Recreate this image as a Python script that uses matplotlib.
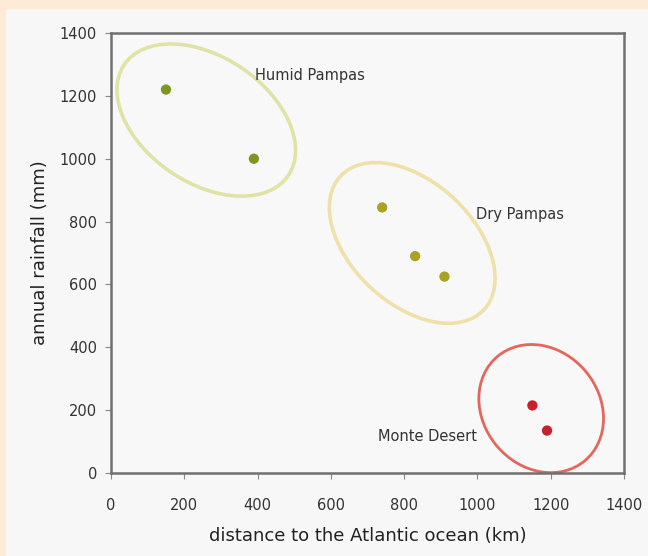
import matplotlib.pyplot as plt
from matplotlib.patches import Ellipse, Rectangle
from matplotlib.transforms import ScaledTranslation

# data
region_names = ["Humid Pampas", "Dry Pampas", "Monte Desert"]
humid_x = [150, 390]
humid_y = [1220, 1000]
dry_x = [740, 830, 910]
dry_y = [845, 690, 625]
monte_x = [1150, 1190]
monte_y = [215, 135]

# ellipse around each group: centre (km, mm)
ellipse_cx = [260, 822, 1174]
ellipse_cy = [1123, 732, 205]

# label anchor per group (km, mm)
label_x = [543, 1116, 865]
label_y = [1266, 821, 115]

x_ticks = [0, 200, 400, 600, 800, 1000, 1200, 1400]
y_ticks = [0, 200, 400, 600, 800, 1000, 1200, 1400]

point_colors = ["#7d9626", "#a9a222", "#c9202b"]
ring_colors = ["#dfe4a6", "#efe1a9", "#e3675c"]
# ellipse size in inches (w, h), angle in degrees, line width
ring_w = [1.98, 1.96, 1.36]
ring_h = [1.26, 1.22, 1.16]
ring_ang = [-34, -43, -50]
ring_lw = [2.6, 2.6, 2.0]

fig = plt.figure(figsize=(6.48, 5.56), dpi=100)
fig.patch.set_facecolor("#fdebd7")
# light panel behind the chart
fig.patches.append(Rectangle((6 / 648, 0), 1, 1 - 9 / 556, transform=fig.transFigure,
                             facecolor="#f7f7f7", edgecolor="none", zorder=-5))

ax = fig.add_axes([111 / 648, 83 / 556, 513 / 648, 440 / 556])
ax.set_facecolor("#f8f8f8")

groups = [(humid_x, humid_y), (dry_x, dry_y), (monte_x, monte_y)]
for i, (gx, gy) in enumerate(groups):
    # ellipse: size in inches, placed at data centre
    tr = fig.dpi_scale_trans + ScaledTranslation(ellipse_cx[i], ellipse_cy[i], ax.transData)
    ell = Ellipse((0, 0), ring_w[i], ring_h[i], angle=ring_ang[i], transform=tr,
                  facecolor="none", edgecolor=ring_colors[i], lw=ring_lw[i], zorder=2)
    ax.add_patch(ell)
    ax.scatter(gx, gy, s=55, color=point_colors[i], edgecolors="none", zorder=3)
    ax.text(label_x[i], label_y[i], region_names[i], ha="center", va="center",
            fontsize=10.5, color="#333333", zorder=4)

ax.set_xlim(0, 1400)
ax.set_ylim(0, 1400)
ax.set_xticks(x_ticks)
ax.set_yticks(y_ticks)
ax.tick_params(axis="x", length=4, pad=14, labelsize=10.5, color="#888888", labelcolor="#333333")
ax.tick_params(axis="y", length=4, pad=6, labelsize=10.5, color="#888888", labelcolor="#333333")
for sp in ax.spines.values():
    sp.set_color("#707070")
    sp.set_linewidth(1.8)

ax.set_xlabel("distance to the Atlantic ocean (km)", fontsize=13, color="#222222", labelpad=10)
ax.set_ylabel("annual rainfall (mm)", fontsize=13, color="#222222", labelpad=8)

fig.savefig("out.png", dpi=100, facecolor=fig.get_facecolor())
